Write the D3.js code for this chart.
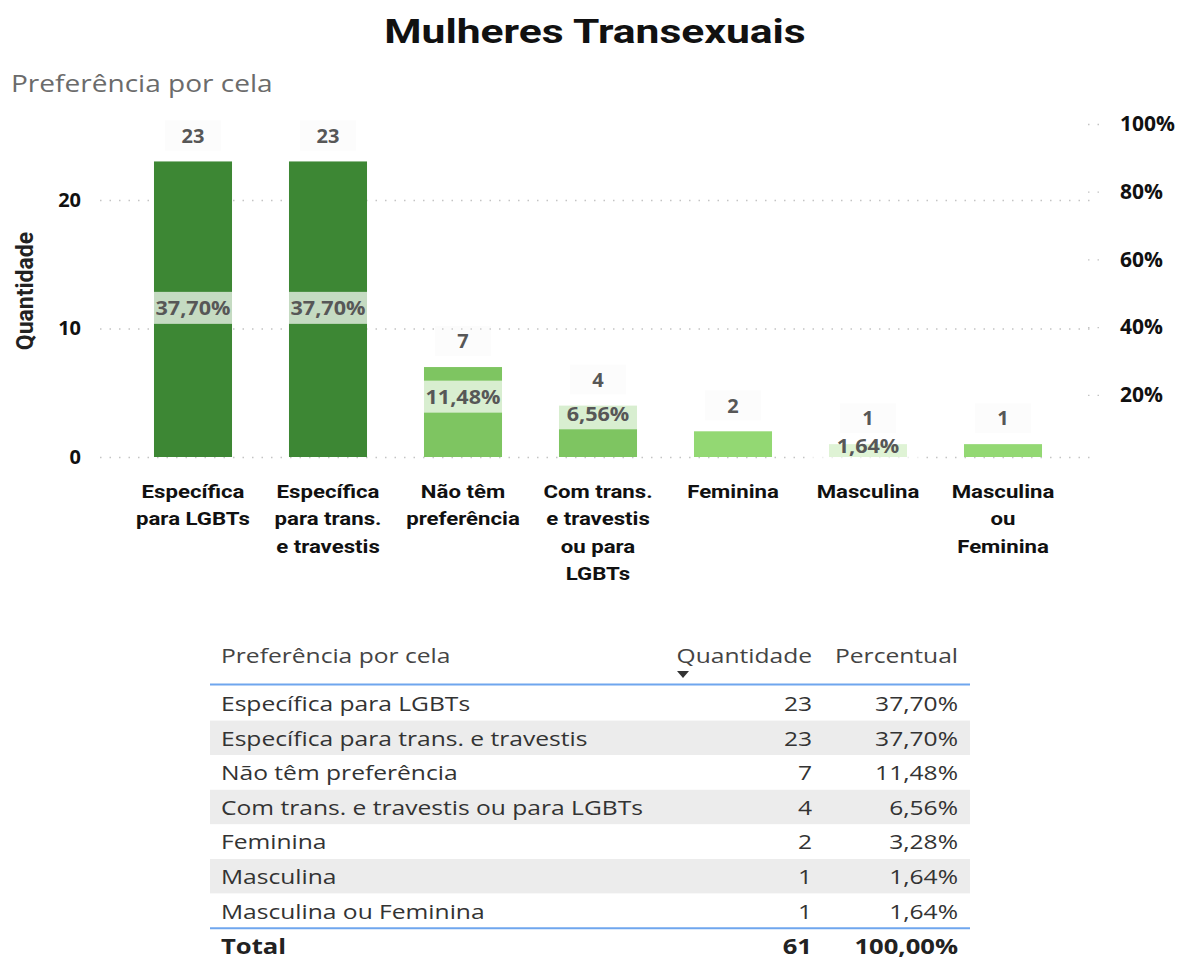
<!DOCTYPE html>
<html lang="pt">
<head>
<meta charset="utf-8">
<title>Mulheres Transexuais</title>
<script src="https://cdn.jsdelivr.net/npm/d3@7/dist/d3.min.js"></script>
<style>
  html, body { margin: 0; padding: 0; background: #fff; }
  svg { display: block; }
</style>
</head>
<body>
<svg id="chart" width="1180" height="959"></svg>
<script>
// ---- data -------------------------------------------------------------
const categories = [
  "Específica para LGBTs",
  "Específica para trans. e travestis",
  "Não têm preferência",
  "Com trans. e travestis ou para LGBTs",
  "Feminina",
  "Masculina",
  "Masculina ou Feminina"
];
const quantities = [23, 23, 7, 4, 2, 1, 1];
// percent labels that stay visible on the chart (others are hidden by overlap)
const pctLabelShown = [true, true, true, true, false, true, false];
const leftTicks = [0, 10, 20];
const rightTicks = [0.2, 0.4, 0.6, 0.8, 1.0];

const total = d3.sum(quantities);
const rows = categories.map((c, i) => ({
  cat: c, q: quantities[i], p: quantities[i] / total, showPct: pctLabelShown[i]
}));

const fmtPct = v => d3.format(".2f")(v * 100).replace(".", ",") + "%";

// ---- helpers ----------------------------------------------------------
const svg = d3.select("#chart");
const FONT = "'Open Sans', 'Noto Sans', sans-serif";
const COND = "Roboto, 'Noto Sans', sans-serif";

// text drawn with a horizontal stretch (wide UI face)
function wideText(parent, x, y, str, o) {
  return parent.append("text")
    .attr("transform", `translate(${x},${y}) scale(${o.sx || 1},1)`)
    .attr("text-anchor", o.anchor || "start")
    .attr("font-family", o.family || FONT)
    .attr("font-weight", o.weight || 400)
    .attr("font-size", o.size)
    .attr("fill", o.fill || "#333")
    .text(str);
}

// ---- header -----------------------------------------------------------
wideText(svg, 595, 43, "Mulheres Transexuais",
  { anchor: "middle", family: COND, weight: 700, size: 33, sx: 1.29, fill: "#111" });
wideText(svg, 11, 92, "Preferência por cela",
  { size: 23, sx: 1.22, fill: "#6b6b6b" });

// ---- scales -----------------------------------------------------------
const x = d3.scaleBand()
  .domain(categories)
  .range([125.5, 1070.5])
  .paddingInner(0.422)
  .paddingOuter(0.211);

const y = d3.scaleLinear().domain([0, 20]).range([457, 200]);
const yPct = d3.scaleLinear().domain([0, 1]).range([462.5, 124]);

const color = d3.scaleThreshold()
  .domain([2.5, 10])
  .range(["#93d873", "#7ec561", "#3d8734"]);

// gridlines + left axis
const gLeft = svg.append("g")
  .attr("transform", "translate(100,0)")
  .call(d3.axisLeft(y).tickValues(leftTicks)
    .tickSizeInner(-992).tickSizeOuter(0).tickPadding(19));
gLeft.select(".domain").remove();
gLeft.selectAll(".tick line")
  .attr("stroke", "#c4c4c4").attr("stroke-width", 1.3)
  .attr("stroke-dasharray", "1.5,8");
gLeft.selectAll(".tick text")
  .attr("font-family", FONT).attr("font-weight", 700)
  .attr("font-size", 20).attr("fill", "#111");

// right axis
const gRight = svg.append("g")
  .attr("transform", "translate(1088,0)")
  .call(d3.axisRight(yPct).tickValues(rightTicks)
    .tickFormat(d3.format(".0%"))
    .tickSizeInner(16).tickSizeOuter(0).tickPadding(16));
gRight.select(".domain").remove();
gRight.selectAll(".tick line")
  .attr("stroke", "#c4c4c4").attr("stroke-width", 1.3)
  .attr("stroke-dasharray", "1.5,8");
gRight.selectAll(".tick text")
  .attr("font-family", FONT).attr("font-weight", 700)
  .attr("font-size", 21).attr("fill", "#111");

// y axis title
svg.append("text")
  .attr("transform", "translate(33,291) rotate(-90)")
  .attr("text-anchor", "middle")
  .attr("font-family", COND).attr("font-weight", 700)
  .attr("font-size", 23).attr("fill", "#222")
  .text("Quantidade");

// ---- bars -------------------------------------------------------------
svg.append("g").selectAll("rect")
  .data(rows).join("rect")
  .attr("x", d => x(d.cat))
  .attr("width", x.bandwidth())
  .attr("y", d => y(d.q))
  .attr("height", d => y(0) - y(d.q))
  .attr("fill", d => color(d.q));

const cx = d => x(d.cat) + x.bandwidth() / 2;
const countY = d => y(d.q) - 26;

// percentage labels placed on the percent scale; pushed below the point
// when they would collide with the count label
const pctY = d => {
  const above = yPct(d.p) - 27;
  return (Math.abs(above - countY(d)) < 30) ? yPct(d.p) - 11 : above;
};
const pct = svg.append("g").selectAll("g")
  .data(rows.filter(d => d.showPct)).join("g")
  .attr("transform", d => `translate(${cx(d)},${pctY(d)})`);
pct.append("rect")
  .attr("x", -56).attr("y", -16).attr("width", 112).attr("height", 32)
  .attr("fill", "#fff").attr("fill-opacity", 0.7);
pct.append("text")
  .attr("text-anchor", "middle").attr("dy", "0.36em")
  .attr("transform", "scale(1.08,1)")
  .attr("font-family", FONT).attr("font-weight", 700)
  .attr("font-size", 20).attr("fill", "#575757")
  .text(d => fmtPct(d.p));

// count labels above bars
const cnt = svg.append("g").selectAll("g")
  .data(rows).join("g")
  .attr("transform", d => `translate(${cx(d)},${countY(d)})`);
cnt.append("rect")
  .attr("x", -28).attr("y", -15).attr("width", 56).attr("height", 30)
  .attr("fill", "#f2f2f2").attr("fill-opacity", 0.2);
cnt.append("text")
  .attr("text-anchor", "middle").attr("dy", "0.36em")
  .attr("font-family", FONT).attr("font-weight", 700)
  .attr("font-size", 20).attr("fill", "#575757")
  .text(d => d.q);

// ---- category labels, wrapped under each bar ------------------------------
const CAT_SIZE = 18.5, CAT_SX = 1.2;
function wrapWords(text, width, measure) {
  const words = text.split(" ");
  const lines = [];
  let line = words[0];
  for (let i = 1; i < words.length; i++) {
    const test = line + " " + words[i];
    if (measure(test) > width) { lines.push(line); line = words[i]; }
    else line = test;
  }
  lines.push(line);
  return lines;
}
const probe = svg.append("text")
  .attr("font-family", COND).attr("font-weight", 700).attr("font-size", CAT_SIZE);
const measure = s => { probe.text(s); return probe.node().getComputedTextLength() * CAT_SX; };

const catG = svg.append("g");
rows.forEach(d => {
  const lines = wrapWords(d.cat, 117, measure);
  const t = catG.append("text")
    .attr("transform", `translate(${cx(d)},498) scale(${CAT_SX},1)`)
    .attr("text-anchor", "middle")
    .attr("font-family", COND).attr("font-weight", 700)
    .attr("font-size", CAT_SIZE).attr("fill", "#111");
  lines.forEach((ln, i) => {
    t.append("tspan").attr("x", 0).attr("dy", i === 0 ? 0 : 27.3).text(ln);
  });
});
probe.remove();

// ---- table ------------------------------------------------------------
const T = { left: 210, right: 970, textX: 221, qX: 812, pX: 958, top: 686, rowH: 34.6 };
const TS = { size: 20.5, sx: 1.2 };
const tbl = svg.append("g");

wideText(tbl, T.textX, 663, "Preferência por cela", { ...TS, fill: "#444" });
wideText(tbl, T.qX, 663, "Quantidade", { ...TS, anchor: "end", fill: "#444" });
wideText(tbl, T.pX, 663, "Percentual", { ...TS, anchor: "end", fill: "#444" });
tbl.append("path")
  .attr("d", "M677,671 L689,671 L683,678 Z").attr("fill", "#333");

const rowY = d3.scaleBand().domain(d3.range(rows.length))
  .range([T.top, T.top + T.rowH * rows.length]);

const rg = tbl.selectAll("g.row").data(rows).join("g").attr("class", "row")
  .attr("transform", (d, i) => `translate(0,${rowY(i)})`);
rg.append("rect")
  .attr("x", T.left).attr("width", T.right - T.left)
  .attr("height", rowY.bandwidth())
  .attr("fill", (d, i) => i % 2 ? "#ececec" : "#fff");
rg.each(function (d) {
  const g = d3.select(this);
  wideText(g, T.textX, 25, d.cat, TS);
  wideText(g, T.qX, 25, d.q, { ...TS, anchor: "end" });
  wideText(g, T.pX, 25, fmtPct(d.p), { ...TS, anchor: "end" });
});

const bottomY = T.top + T.rowH * rows.length;
tbl.append("line").attr("x1", T.left).attr("x2", T.right)
  .attr("y1", 684.5).attr("y2", 684.5)
  .attr("stroke", "#6fa6ee").attr("stroke-width", 2);
tbl.append("line").attr("x1", T.left).attr("x2", T.right)
  .attr("y1", bottomY).attr("y2", bottomY)
  .attr("stroke", "#6fa6ee").attr("stroke-width", 2);

const TB = { ...TS, weight: 700, fill: "#222", sx: 1.25 };
wideText(tbl, T.textX, bottomY + 26, "Total", TB);
wideText(tbl, T.qX, bottomY + 26, total, { ...TB, anchor: "end" });
wideText(tbl, T.pX, bottomY + 26, fmtPct(1), { ...TB, anchor: "end" });
</script>
</body>
</html>
